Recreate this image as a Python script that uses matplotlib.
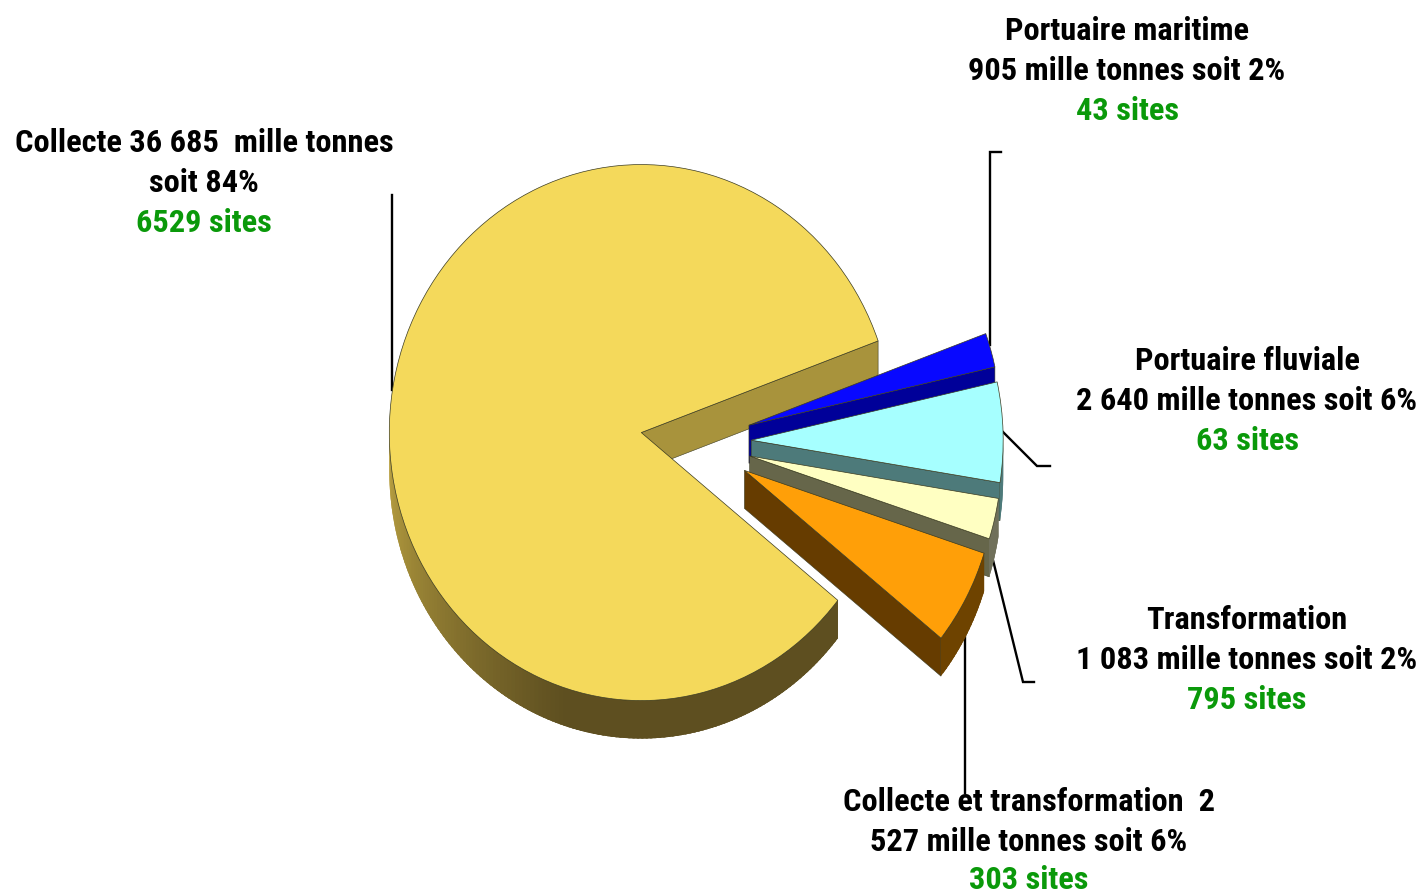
#! /usr/bin/env python

# Exploded 3D-looking pie of storage capacity by site type

import numpy as np
import matplotlib
matplotlib.use("Agg")
import matplotlib.pyplot as plt

WIDTH, HEIGHT = 1423, 894

# in pie order, counterclockwise from the start angle
categories = ["Collecte", "Collecte et transformation", "Transformation",
              "Portuaire fluviale", "Portuaire maritime"]
tonnes = [36685, 2527, 1083, 2640, 905]
top_colors = ["#F4D95B", "#FF9F08", "#FFFFC2", "#A6FFFF", "#0808FF"]
wall_colors = ["#A8933C", "#663C00", "#66664A", "#4D7A7A", "#000099"]
rim_colors = ["#5E4F20", "#6E4300", "#70705A", "#4D7A7A", "#000099"]
explode = [0.216, 0.223, 0.223, 0.223, 0.223]

label_black = [
    ["Collecte 36 685  mille tonnes", "soit 84%"],
    ["Collecte et transformation  2", "527 mille tonnes soit 6%"],
    ["Transformation", "1 083 mille tonnes soit 2%"],
    ["Portuaire fluviale", "2 640 mille tonnes soit 6%"],
    ["Portuaire maritime", "905 mille tonnes soit 2%"],
]
label_sites = ["6529 sites", "303 sites", "795 sites", "63 sites", "43 sites"]

# pixel layout of the picture
label_x = [204, 1029, 1247, 1247, 1127]
label_y = [143, 802, 620, 361, 31]
leaders = [
    [(392, 195), (392, 390)],
    [(965, 635), (965, 793)],
    [(992, 556), (1023, 682), (1034, 682)],
    [(1003, 432), (1037, 466), (1050, 466)],
    [(1001, 152), (990, 152), (990, 345)],
]

PX_X, PX_Y = 252.0, 268.0   # pixels per data unit
CX, CY = 695.0, 442.0       # pie centre in pixels
DEPTH = 38.0 / PX_Y

plt.rcParams['font.family'] = ['Roboto Condensed', 'Fira Sans Condensed', 'Liberation Sans', 'DejaVu Sans']

fig = plt.figure(figsize=(WIDTH / 100, HEIGHT / 100), dpi=100)
ax = fig.add_axes([0, 0, 1, 1])

wedges, _ = ax.pie(tonnes, explode=explode, colors=top_colors, startangle=20,
                   radius=1, wedgeprops=dict(edgecolor="#3a3a20", linewidth=0.5))
ax.set_aspect("auto")
ax.set_xlim(-CX / PX_X, (WIDTH - CX) / PX_X)
ax.set_ylim((CY - HEIGHT) / PX_Y, CY / PX_Y)
ax.axis("off")


def rim_shade(i, angle):
    # only the big slice has the lighter gradient towards its left side
    if i != 0:
        return rim_colors[i]
    t = np.clip((angle - 180) / 72.0, 0, 1)
    light = np.array(matplotlib.colors.to_rgb("#BCA342"))
    dark = np.array(matplotlib.colors.to_rgb(rim_colors[0]))
    return tuple(light + (dark - light) * t)


# back to front: big slice first, then the small ones from top to bottom
draw_order = [0, 4, 3, 2, 1]
for level, i in enumerate(draw_order):
    w = wedges[i]
    z = 2 + level
    cx, cy = w.center
    t1, t2 = w.theta1, w.theta2

    # radial wall on the edge that faces the viewer
    for theta, visible in ((t1, np.cos(np.radians(t1)) > 0), (t2, np.cos(np.radians(t2)) < 0)):
        if visible:
            ex = cx + w.r * np.cos(np.radians(theta))
            ey = cy + w.r * np.sin(np.radians(theta))
            ax.fill([cx, ex, ex, cx], [cy, ey, ey - DEPTH, cy - DEPTH],
                    facecolor=wall_colors[i], edgecolor="#3a3a20", linewidth=0.4, zorder=z)

    # outer rim, lower half of the ellipse only; strips overlap to hide seams
    for a in np.arange(np.floor(t1), t2, 1.0):
        a0, a1 = max(a, t1), min(a + 2.5, t2)
        if np.sin(np.radians(a0 + 0.5)) >= 0:
            continue
        xs = cx + w.r * np.cos(np.radians([a0, a1]))
        ys = cy + w.r * np.sin(np.radians([a0, a1]))
        col = rim_shade(i, a0 + 0.5)
        ax.fill([xs[0], xs[1], xs[1], xs[0]], [ys[0], ys[1], ys[1] - DEPTH, ys[0] - DEPTH],
                facecolor=col, edgecolor="none", zorder=z)

    w.set_zorder(z + 0.5)

for pts in leaders:
    xs = [(p[0] - CX) / PX_X for p in pts]
    ys = [(CY - p[1]) / PX_Y for p in pts]
    ax.plot(xs, ys, color="black", linewidth=1.7, zorder=1, solid_joinstyle="miter")

for i in range(len(categories)):
    x = label_x[i] / WIDTH
    for n, line in enumerate(label_black[i]):
        fig.text(x, 1 - (label_y[i] + 40 * n) / HEIGHT, line, ha="center", va="center",
                 fontsize=23.3, fontweight="bold", color="black")
    fig.text(x, 1 - (label_y[i] + 78 + (0 if i == 1 else 2)) / HEIGHT, label_sites[i], ha="center",
             va="center", fontsize=23.3, fontweight="bold", color="#0A990A")

fig.savefig("out.png", dpi=100)
